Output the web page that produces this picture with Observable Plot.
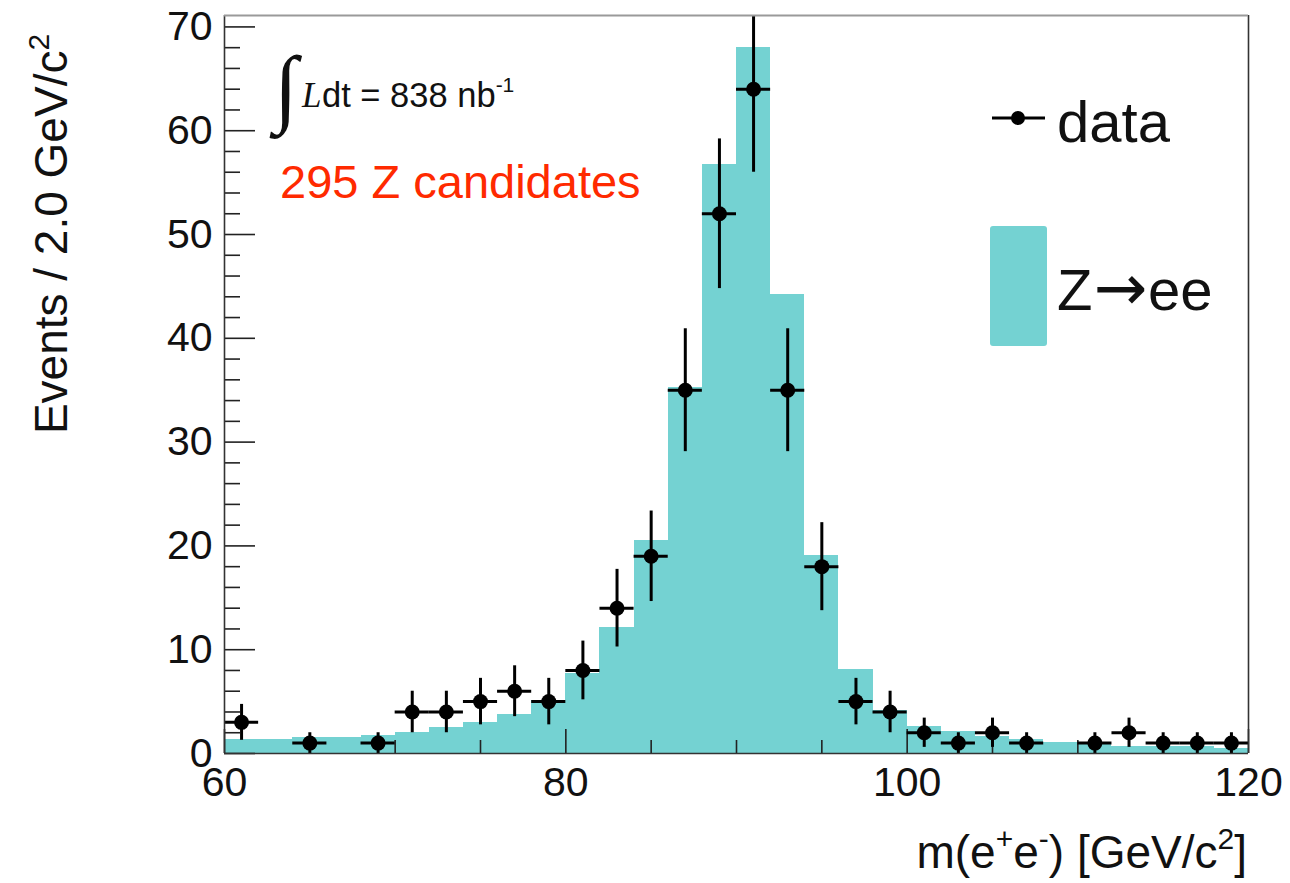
<!DOCTYPE html>
<html><head><meta charset="utf-8">
<script src="https://cdn.jsdelivr.net/npm/d3@7"></script>
<script src="https://cdn.jsdelivr.net/npm/@observablehq/plot@0.6"></script>
<style>body{margin:0;background:#fff}</style>
</head><body><div id="chart"></div>
<script>
// ---- data ----
const binEdges = [60,62,64,66,68,70,72,74,76,78,80,82,84,86,88,90,92,94,96,98,100,102,104,106,108,110,112,114,116,118,120];
const mcCounts = [1.39,1.39,1.54,1.54,1.78,2.03,2.5,2.98,3.8,5.1,7.66,12.1,20.5,35.3,56.7,68.0,44.2,19.07,8.14,4.11,2.6,2.11,1.6,1.31,1.05,0.98,0.67,0.67,0.65,0.48];
const dataCounts = [3,0,1,0,1,4,4,5,6,5,8,14,19,35,52,64,35,18,5,4,2,1,2,1,0,1,2,1,1,1];
const dataErrors = [1.73,0,1,0,1,2,2,2.24,2.45,2.24,2.83,3.74,4.36,5.92,7.21,8,5.92,4.24,2.24,2,1.41,1,1.41,1,0,1,1.41,1,1,1];
const xMajorTicks = [60,80,100,120];
const xMinorTicks = [65,70,75,85,90,95,105,110,115];
const yMajorTicks = [0,10,20,30,40,50,60,70];
const yMinorTicks = [2,4,6,8,12,14,16,18,22,24,26,28,32,34,36,38,42,44,46,48,52,54,56,58,62,64,66,68];
const fillColor = "#74d2d2";

const bins = mcCounts.map((v,i)=>({lo: binEdges[i], hi: binEdges[i+1], mc: v}));
const points = dataCounts.map((n,i)=>({lo: binEdges[i], hi: binEdges[i+1], c: (binEdges[i]+binEdges[i+1])/2, n, e: dataErrors[i]})).filter(d=>d.n>0);

const W=1290, H=883, mL=224, mR=42, mT=15, mB=130;
const plotW = W-mL-mR, plotH = H-mT-mB;
const font = "'Liberation Sans', Arial, Helvetica, sans-serif";

const chart = Plot.plot({
  width: W, height: H, marginLeft: mL, marginRight: mR, marginTop: mT, marginBottom: mB,
  x: {domain: [60,120], label: null},
  y: {domain: [0,71.1], label: null},
  style: {fontFamily: font, color: "#111", background: "white", overflow: "visible"},
  marks: [
    Plot.rectY(bins, {x1: "lo", x2: "hi", y: "mc", fill: fillColor, shapeRendering: "crispEdges"}),
    Plot.ruleX(xMajorTicks, {insetTop: plotH-24, stroke: "#222", strokeWidth: 1.6}),
    Plot.ruleX(xMinorTicks, {insetTop: plotH-13, stroke: "#222", strokeWidth: 1.6}),
    Plot.ruleY(yMajorTicks, {insetRight: plotW-31, stroke: "#222", strokeWidth: 1.6}),
    Plot.ruleY(yMinorTicks, {insetRight: plotW-16, stroke: "#222", strokeWidth: 1.6}),
    Plot.ruleX(points, {x: "c", y1: d=>d.n-d.e, y2: d=>d.n+d.e, stroke: "black", strokeWidth: 3, clip: true}),
    Plot.ruleY(points, {y: "n", x1: "lo", x2: "hi", stroke: "black", strokeWidth: 3}),
    Plot.dot(points, {x: "c", y: "n", r: 7.5, fill: "black", stroke: null}),
    Plot.ruleX([60,120], {stroke: "#333", strokeWidth: 1.6}),
    Plot.ruleY([0], {stroke: "#333", strokeWidth: 1.6}),
    Plot.ruleY([71.1], {stroke: "#9a9a9a", strokeWidth: 2}),
    Plot.axisX(xMajorTicks, {tickSize: 0, tickPadding: 13, fontSize: 41, label: null}),
    Plot.axisY(yMajorTicks, {tickSize: 0, tickPadding: 12, fontSize: 41, label: null})
  ]
});
document.getElementById("chart").appendChild(chart);

// ---- annotations (text with super/subscripts) ----
const svg = d3.select(chart);
const g = svg.append("g").attr("font-family", font).attr("fill", "#111").attr("text-anchor", "start");

g.append("text").attr("x", 274).attr("y", 116).attr("font-family", "'Liberation Serif', 'Times New Roman', serif")
  .attr("font-size", 86).text("\u222B");
g.append("text").attr("x", 302).attr("y", 107).attr("font-family", "'Liberation Serif', 'Times New Roman', serif")
  .attr("font-style", "italic").attr("font-size", 35).text("L");
const lum = g.append("text").attr("x", 322).attr("y", 107).attr("font-size", 34.5);
lum.append("tspan").text("dt = 838 nb");
lum.append("tspan").attr("dy", -15).attr("font-size", 21).text("-1");

g.append("text").attr("x", 280).attr("y", 198).attr("font-size", 47).attr("fill", "#ff2a00").text("295 Z candidates");

// legend
const lg = g.append("g");
lg.append("line").attr("x1", 992).attr("x2", 1045).attr("y1", 118).attr("y2", 118).attr("stroke", "black").attr("stroke-width", 3);
lg.append("circle").attr("cx", 1018).attr("cy", 118).attr("r", 7).attr("fill", "black");
lg.append("text").attr("x", 1057).attr("y", 142).attr("font-size", 58).text("data");
lg.append("rect").attr("x", 990).attr("y", 226).attr("width", 57).attr("height", 120).attr("rx", 3).attr("fill", fillColor);
const zt = lg.append("text").attr("x", 1057).attr("y", 310).attr("font-size", 58);
zt.append("tspan").text("Z");
zt.append("tspan").attr("dx", 1).attr("font-family", "'DejaVu Sans', sans-serif").attr("font-size", 64).text("\u2192");
zt.append("tspan").attr("dx", 1).text("ee");

// x title
const xt = g.append("text").attr("x", 1247).attr("y", 868).attr("text-anchor", "end").attr("font-size", 46);
xt.append("tspan").text("m(e");
xt.append("tspan").attr("dy", -19).attr("font-size", 30).text("+");
xt.append("tspan").attr("dy", 19).text("e");
xt.append("tspan").attr("dy", -19).attr("font-size", 30).text("-");
xt.append("tspan").attr("dy", 19).text(") [GeV/c");
xt.append("tspan").attr("dy", -19).attr("font-size", 30).text("2");
xt.append("tspan").attr("dy", 19).text("]");

// y title
const yt = g.append("text").attr("transform", "translate(67,234) rotate(-90)").attr("text-anchor", "middle").attr("font-size", 46);
yt.append("tspan").text("Events / 2.0 GeV/c");
yt.append("tspan").attr("dy", -18).attr("font-size", 30).text("2");
</script>
</body></html>
